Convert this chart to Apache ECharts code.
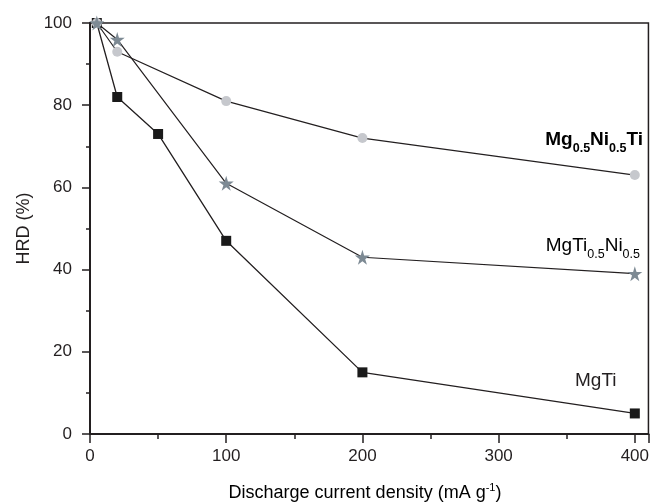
<!DOCTYPE html>
<html>
<head>
<meta charset="utf-8">
<title>HRD vs discharge current density</title>
<script src="https://cdn.jsdelivr.net/npm/echarts@6/dist/echarts.min.js"></script>
<style>
  html, body { margin: 0; padding: 0; background: #fff; }
  #chart { width: 652px; height: 502px; }
</style>
</head>
<body>
<div id="chart"></div>
<script>
// data
const xMgTi = [5, 20, 50, 100, 200, 400];
const yMgTi = [100, 82, 73, 47, 15, 5];
const xMgNiTi = [5, 20, 100, 200, 400];
const yMgNiTi = [100, 93, 81, 72, 63];
const xMgTiNi = [5, 20, 100, 200, 400];
const yMgTiNi = [100, 96, 61, 43, 39];

const xTicks = [0, 100, 200, 300, 400];
const yTicks = [0, 20, 40, 60, 80, 100];

const FONT = 'Liberation Sans, Arial, sans-serif';
const INK = '#231f20';
const STAR = 'path://M50,0 L61,35 L98,35 L68,57 L79,91 L50,70 L21,91 L32,57 L2,35 L39,35 Z';

function pairs(xs, ys) {
  return xs.map((x, i) => [x, ys[i]]);
}

const chart = echarts.init(document.getElementById('chart'));

const subRich = (size, weight) => ({
  n: { fontSize: size, fontWeight: weight, fontFamily: FONT, color: INK, lineHeight: 20, verticalAlign: 'top' },
  s: { fontSize: 12.5, fontWeight: weight, fontFamily: FONT, color: INK, lineHeight: 12, padding: [12, 0, 0, 0], verticalAlign: 'top' }
});

chart.setOption({
  animation: false,
  backgroundColor: '#fff',
  grid: {
    left: 90, right: 1, top: 23, bottom: 68,
    show: true, borderColor: INK, borderWidth: 1.5
  },
  xAxis: [{
    type: 'value', min: 0, max: 410, interval: 100,
    axisLine: { show: true, onZero: false, lineStyle: { color: INK, width: 2 } },
    axisTick: { show: true, inside: false, length: 9, lineStyle: { color: INK, width: 1.5 } },
    axisLabel: {
      margin: 14, fontSize: 17, fontFamily: FONT, color: INK,
      formatter: v => xTicks.includes(v) ? String(v) : ''
    },
    splitLine: { show: false }
  }, {
    type: 'value', min: 0, max: 410, interval: 50, position: 'bottom',
    axisLine: { show: false },
    axisTick: { show: true, inside: false, length: 5, lineStyle: { color: INK, width: 1.5 } },
    axisLabel: { show: false },
    splitLine: { show: false }
  }],
  yAxis: {
    type: 'value', min: 0, max: 100, interval: 20,
    name: 'HRD (%)', nameLocation: 'middle', nameGap: 56,
    nameTextStyle: { fontSize: 18, fontFamily: FONT, color: INK },
    axisLine: { show: true, onZero: false, lineStyle: { color: INK, width: 2 } },
    axisTick: { show: true, inside: false, length: 8, lineStyle: { color: INK, width: 1.5 } },
    minorTick: { show: true, splitNumber: 2, length: 4, lineStyle: { color: INK, width: 1.5 } },
    axisLabel: {
      margin: 18, fontSize: 17, fontFamily: FONT, color: INK,
      formatter: v => yTicks.includes(v) ? String(v) : ''
    },
    splitLine: { show: false }
  },
  series: [{
    name: 'MgTi', type: 'line', data: pairs(xMgTi, yMgTi),
    symbol: 'rect', symbolSize: 10,
    lineStyle: { color: INK, width: 1.3 },
    itemStyle: { color: '#1a1a1a' }
  }, {
    name: 'Mg0.5Ni0.5Ti', type: 'line', data: pairs(xMgNiTi, yMgNiTi),
    symbol: 'circle', symbolSize: 10,
    lineStyle: { color: INK, width: 1.2 },
    itemStyle: { color: '#c6c8cd' }
  }, {
    name: 'MgTi0.5Ni0.5', type: 'line', data: pairs(xMgTiNi, yMgTiNi),
    symbol: STAR, symbolSize: 15,
    lineStyle: { color: INK, width: 1.2 },
    itemStyle: { color: '#7d8a94' }
  }],
  graphic: [{
    // x axis title, with the g^-1 superscript
    type: 'text', x: 365, y: 502,
    style: {
      text: '{n|Discharge current density (mA g}{p|-1}{n|)}',
      align: 'center', verticalAlign: 'bottom',
      rich: {
        n: { fontSize: 18, fontFamily: FONT, color: INK, lineHeight: 20, verticalAlign: 'bottom' },
        p: { fontSize: 11, fontFamily: FONT, color: INK, lineHeight: 11, verticalAlign: 'top' }
      }
    }
  }, {
    type: 'text', x: 643, y: 130,
    style: {
      text: '{n|Mg}{s|0.5}{n|Ni}{s|0.5}{n|Ti}',
      align: 'right', verticalAlign: 'top',
      rich: subRich(19, 'bold')
    }
  }, {
    type: 'text', x: 640, y: 236,
    style: {
      text: '{n|MgTi}{s|0.5}{n|Ni}{s|0.5}',
      align: 'right', verticalAlign: 'top',
      rich: subRich(19, 'normal')
    }
  }, {
    type: 'text', x: 575, y: 371,
    style: {
      text: 'MgTi', fontSize: 19, fontFamily: FONT, fill: INK,
      align: 'left', verticalAlign: 'top'
    }
  }]
});
</script>
</body>
</html>
